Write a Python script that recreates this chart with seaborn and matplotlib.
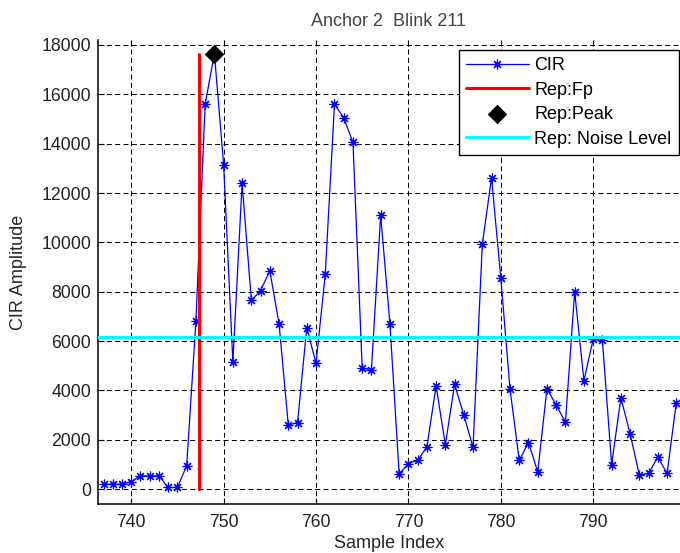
import numpy as np
import pandas as pd
import seaborn as sns
import matplotlib
matplotlib.use("Agg")
import matplotlib.pyplot as plt

# values
sample_index = list(range(737, 800))
cir_amplitude = [
    200, 200, 200, 310, 540, 540, 540, 70, 70, 950,
    6800, 15600, 17650, 13150, 5150, 12400, 7650, 8050, 8850, 6700,
    2600, 2700, 6550, 5100, 8700, 15600, 15050, 14050, 4900, 4850,
    11100, 6700, 620, 1040, 1170, 1710, 4180, 1800, 4250, 3000,
    1690, 9920, 12620, 8570, 4050, 1170, 1890, 700, 4080, 3400,
    2720, 8000, 4400, 6070, 6030, 1000, 3700, 2250, 570, 640,
    1300, 640, 3500,
]
fp_index = 747.3
peak_index = 749
peak_value = 17650
noise_level = 6150
x_ticks = [740, 750, 760, 770, 780, 790]
y_ticks = [0, 2000, 4000, 6000, 8000, 10000, 12000, 14000, 16000, 18000]

sns.set_theme(style="ticks")
plt.rcParams['font.family'] = ['Liberation Sans', 'DejaVu Sans']
plt.rcParams['text.color'] = '#222222'
plt.rcParams['lines.scale_dashes'] = False

cir = pd.DataFrame({"Sample Index": sample_index, "CIR Amplitude": cir_amplitude})
fp = pd.DataFrame({"x": [fp_index, fp_index], "y": [0, peak_value]})
peak = pd.DataFrame({"x": [peak_index], "y": [peak_value]})

fig = plt.figure(figsize=(6.8, 5.53), dpi=100)
ax = fig.add_axes([0.1441, 0.0886, 0.8559, 0.839])

sns.lineplot(data=cir, x="Sample Index", y="CIR Amplitude", ax=ax, color="blue",
             linewidth=0.9, marker=(8, 2, 0), markersize=7,
             markeredgecolor="blue", markeredgewidth=0.85, label="CIR", zorder=3)
sns.lineplot(data=fp, x="x", y="y", ax=ax, color="red", linewidth=2.2,
             estimator=None, errorbar=None, sort=False,
             label="Rep:Fp", zorder=4)
sns.scatterplot(data=peak, x="x", y="y", ax=ax, color="black", marker="D", s=85,
                edgecolor="black", label="Rep:Peak", zorder=5)
ax.axhline(noise_level, color="cyan", linewidth=2.2, label="Rep: Noise Level", zorder=4)

ax.set_xlim(736.4, 799.4)
ax.set_ylim(-600, 18200)
ax.set_xticks(x_ticks)
ax.set_yticks(y_ticks)
ax.grid(True, color="black", linestyle=(0, (3.6, 2.4)), linewidth=0.75)
ax.set_axisbelow(True)
sns.despine(ax=ax)
for s in ["left", "bottom"]:
    ax.spines[s].set_linewidth(1.1)
    ax.spines[s].set_color("black")
ax.tick_params(direction="in", length=4, width=0.8, colors="black",
               labelcolor="#222222", labelsize=12.7, top=True)
ax.tick_params(axis="x", pad=7)
ax.tick_params(axis="y", pad=5)

ax.set_xlabel("Sample Index", fontsize=13, labelpad=3)
ax.set_ylabel("CIR Amplitude", fontsize=13, labelpad=10)
ax.set_title("Anchor 2  Blink 211", fontsize=13, pad=10, color="#444444")

leg = ax.legend(loc="upper right", bbox_to_anchor=(0.998, 0.979), borderaxespad=0,
                fontsize=13, frameon=True, fancybox=False, framealpha=1,
                edgecolor="black", handlelength=3.5, handletextpad=0.3,
                labelspacing=0.42, borderpad=0.4)
leg.get_frame().set_linewidth(1.0)
for t in leg.get_texts():
    t.set_color("black")

fig.savefig("out.png", dpi=100)
